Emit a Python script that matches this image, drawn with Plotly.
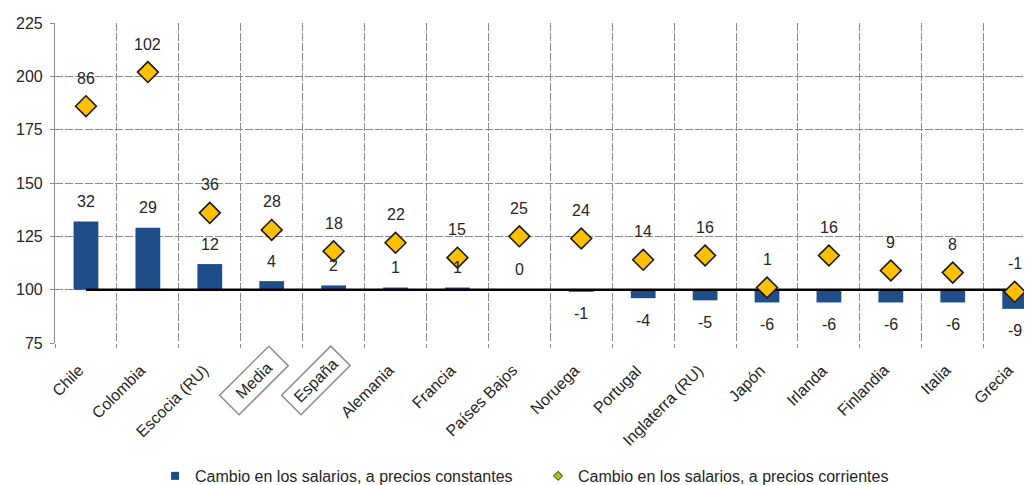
import plotly.graph_objects as go

categories = ["Chile", "Colombia", "Escocia (RU)", "Media", "España", "Alemania",
              "Francia", "Países Bajos", "Noruega", "Portugal", "Inglaterra (RU)",
              "Japón", "Irlanda", "Finlandia", "Italia", "Grecia"]
boxed = ["Media", "España"]
constant_prices = [32, 29, 12, 4, 2, 1, 1, 0, -1, -4, -5, -6, -6, -6, -6, -9]
current_prices = [86, 102, 36, 28, 18, 22, 15, 25, 24, 14, 16, 1, 16, 9, 8, -1]
base_level = 100
y_ticks = [75, 100, 125, 150, 175, 200, 225]

name_const = "Cambio en los salarios, a precios constantes"
name_curr = "Cambio en los salarios, a precios corrientes"

FONT = "Arial, Liberation Sans, sans-serif"
TXT = "#262626"
GRID = "#8c8c8c"
BAR = "#1f4e8a"
GOLD = "#ffc000"

fig = go.Figure()

fig.add_trace(go.Bar(
    x=categories, y=constant_prices, base=base_level, width=0.4,
    marker=dict(color=BAR, line=dict(width=0)), name=name_const, showlegend=False))

fig.add_trace(go.Scatter(
    x=categories, y=[base_level] * len(categories), mode="lines",
    line=dict(color="black", width=2.5), showlegend=False, hoverinfo="skip"))

fig.add_trace(go.Scatter(
    x=categories, y=[base_level + v for v in current_prices], mode="markers",
    marker=dict(symbol="diamond", size=16, color=GOLD,
                line=dict(color="#1a1a1a", width=1.6)),
    name=name_curr, showlegend=False))

# legend entries
fig.add_trace(go.Scatter(
    x=[None], y=[None], mode="markers", name=name_const,
    marker=dict(symbol="square", size=8, color=BAR, line=dict(width=0))))
fig.add_trace(go.Scatter(
    x=[None], y=[None], mode="markers", name=name_curr,
    marker=dict(symbol="diamond", size=7, color="#a9c400",
                line=dict(color="#333333", width=1))))

ann = []
for c, v in zip(categories, constant_prices):
    ann.append(dict(x=c, y=base_level + v, xref="x", yref="y", text=str(v),
                    showarrow=False, yshift=20 if v >= 0 else -22,
                    font=dict(size=16, color=TXT, family=FONT)))
for c, v in zip(categories, current_prices):
    ann.append(dict(x=c, y=base_level + v, xref="x", yref="y", text=str(v),
                    showarrow=False, yshift=28,
                    font=dict(size=16, color=TXT, family=FONT)))
for c in categories:
    if c in boxed:
        ann.append(dict(x=c, y=0, xref="x", yref="paper", text=c, showarrow=False,
                        textangle=-45, xanchor="center", yanchor="middle",
                        xshift=-18, yshift=-37, width=60, height=18,
                        bordercolor="#8c8c8c", borderwidth=1.5, borderpad=4,
                        font=dict(size=16, color=TXT, family=FONT)))
    else:
        ann.append(dict(x=c, y=0, xref="x", yref="paper", text=c, showarrow=False,
                        textangle=-45, xanchor="right", yanchor="top",
                        xshift=4, yshift=-16,
                        font=dict(size=16, color=TXT, family=FONT)))

fig.update_layout(
    width=1024, height=477, autosize=False,
    margin=dict(l=47, r=0, t=15, b=141.5, pad=0),
    plot_bgcolor="white", paper_bgcolor="white",
    font=dict(family=FONT, color=TXT, size=16),
    annotations=ann,
    shapes=[dict(type="line", xref="x", yref="y", x0=15.15, x1=16,
                 y0=base_level, y1=base_level, layer="above",
                 line=dict(color="black", width=2.5))],
    showlegend=True,
    legend=dict(orientation="h", xref="container", yref="container",
                x=0.1436, xanchor="left", y=0.019, yanchor="middle",
                font=dict(size=16, color=TXT, family=FONT),
                entrywidth=338, itemwidth=30, bgcolor="rgba(0,0,0,0)"),
    bargap=0.6,
)

fig.update_xaxes(
    type="category", range=[-0.5, 15.28], tickson="boundaries",
    showgrid=True, gridcolor=GRID, gridwidth=1.2, griddash="8px,2px",
    ticks="outside", ticklen=4, tickcolor=GRID, showticklabels=False,
    showline=False, zeroline=False, fixedrange=True)
fig.update_yaxes(
    range=[75, 225], tickvals=y_ticks, ticktext=[str(t) for t in y_ticks],
    showgrid=True, gridcolor=GRID, gridwidth=1.2, griddash="8px,2px",
    ticks="outside", ticklen=4, tickcolor=GRID, ticklabelstandoff=4,
    tickfont=dict(size=16, color=TXT, family=FONT),
    showline=True, linecolor=GRID, linewidth=1.2, zeroline=False, fixedrange=True)

fig.write_html("out.html")
